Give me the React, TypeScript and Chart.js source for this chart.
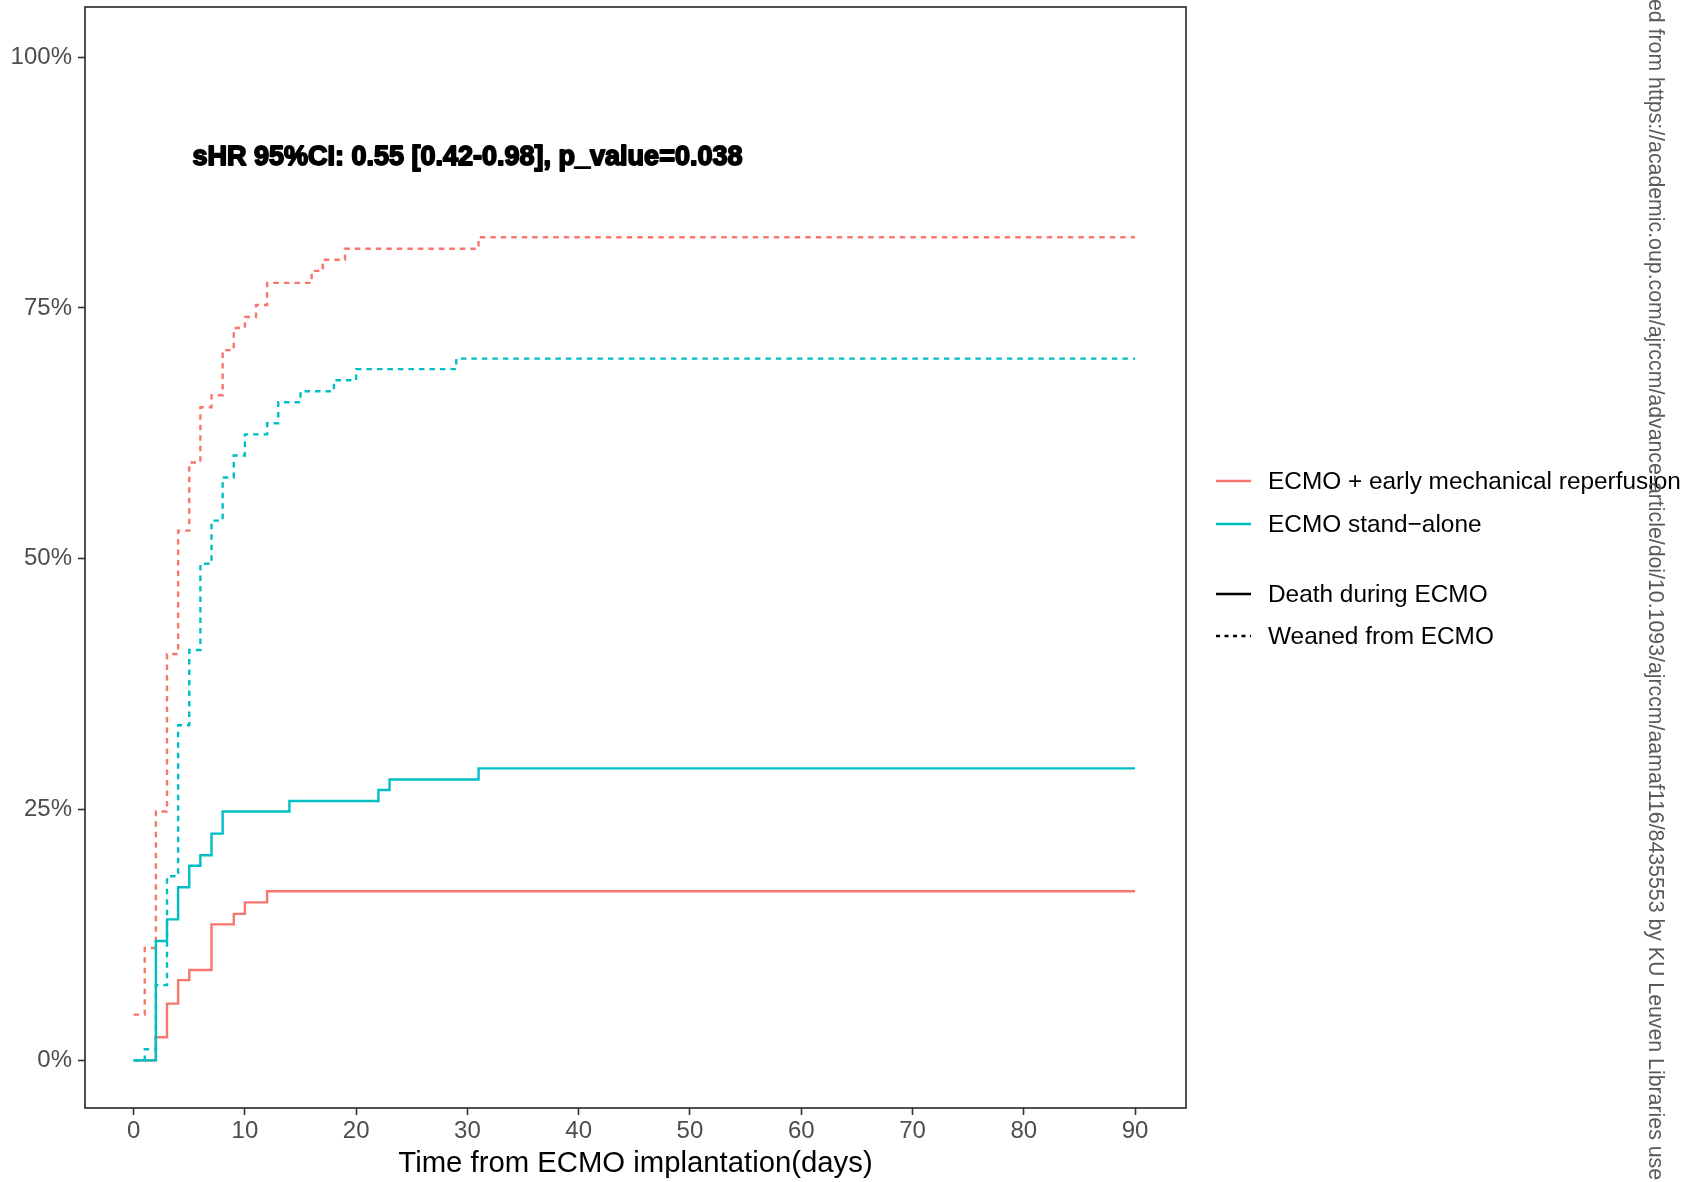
import React, { useEffect, useRef } from 'react';
import { Chart, registerables } from 'chart.js';

Chart.register(...registerables);

const FONT = '"Liberation Sans", Arial, Helvetica, sans-serif';

// Axis ticks
const xTickValues = [0, 10, 20, 30, 40, 50, 60, 70, 80, 90];
const yTickValues = [0, 25, 50, 75, 100];

// Cumulative incidence (%), value holds from the time point onward
const deathEarlyT = [0, 2, 3, 4, 5, 7, 9, 10, 12, 90];
const deathEarlyV = [0, 2.3, 5.65, 8.0, 9.0, 13.55, 14.6, 15.75, 16.85, 16.85];

const deathAloneT = [0, 2, 3, 4, 5, 6, 7, 8, 14, 22, 23, 31, 90];
const deathAloneV = [0, 11.9, 14.05, 17.25, 19.4, 20.45, 22.6, 24.8, 25.85, 26.95, 28.0, 29.1, 29.1];

const weanEarlyT = [0, 1, 2, 3, 4, 5, 6, 7, 8, 9, 10, 11, 12, 16, 17, 19, 31, 90];
const weanEarlyV = [4.56, 11.2, 24.8, 40.5, 52.8, 59.6, 65.1, 66.3, 70.8, 73.0, 74.1, 75.3, 77.5, 78.7, 79.8, 80.9, 82.05, 82.05];

const weanAloneT = [0, 1, 2, 3, 4, 5, 6, 7, 8, 9, 10, 12, 13, 15, 18, 20, 29, 90];
const weanAloneV = [0, 1.1, 7.5, 18.35, 33.4, 40.9, 49.5, 53.8, 58.1, 60.3, 62.4, 63.5, 65.6, 66.7, 67.8, 68.9, 69.95, 69.95];

const groupLabels = ['ECMO + early mechanical reperfusion', 'ECMO stand\u2212alone'];
const groupColors = ['#F8766D', '#00BFC4'];
const eventLabels = ['Death during ECMO', 'Weaned from ECMO'];

const annotationText = 'sHR 95%CI: 0.55 [0.42-0.98], p_value=0.038';
const annotationAt = { x: 30, y: 90 };
const xTitle = 'Time from ECMO implantation(days)';
const watermark = 'ed from https://academic.oup.com/ajrccm/advance-article/doi/10.1093/ajrccm/aamaf116/8435553 by KU Leuven Libraries use';

const DASH = [5.5, 5];
const LW = 2.4;

function pts(t: number[], v: number[]) {
  return t.map((x, i) => ({ x, y: v[i] }));
}

const decorPlugin = {
  id: 'decor',
  afterDraw(chart: any) {
    const { ctx, chartArea: a } = chart;
    const xs = chart.scales.x;
    const ys = chart.scales.y;
    ctx.save();
    // panel border
    ctx.strokeStyle = '#333333';
    ctx.lineWidth = 1.7;
    ctx.setLineDash([]);
    ctx.strokeRect(a.left, a.top, a.right - a.left, a.bottom - a.top);

    // annotation (heavy, overprinted look)
    ctx.font = `bold 27px ${FONT}`;
    ctx.fillStyle = '#000000';
    ctx.strokeStyle = '#000000';
    ctx.lineWidth = 1.8;
    ctx.lineJoin = 'round';
    ctx.textAlign = 'center';
    ctx.textBaseline = 'middle';
    const ax = xs.getPixelForValue(annotationAt.x);
    const ay = ys.getPixelForValue(annotationAt.y);
    ctx.strokeText(annotationText, ax, ay);
    ctx.fillText(annotationText, ax, ay);

    // x-axis title
    ctx.font = `29.3px ${FONT}`;
    ctx.fillStyle = '#000000';
    ctx.fillText(xTitle, (a.left + a.right) / 2, 1164);

    // legend
    const keyX0 = 1216;
    const keyX1 = 1251;
    const textX = 1268;
    const rows = [481, 524, 594, 636];
    ctx.font = `24.4px ${FONT}`;
    ctx.textAlign = 'left';
    ctx.lineWidth = LW;
    const items = [
      { label: groupLabels[0], color: groupColors[0], dash: [] as number[] },
      { label: groupLabels[1], color: groupColors[1], dash: [] as number[] },
      { label: eventLabels[0], color: '#000000', dash: [] as number[] },
      { label: eventLabels[1], color: '#000000', dash: [4, 4.5] },
    ];
    items.forEach((it, i) => {
      ctx.strokeStyle = it.color;
      ctx.setLineDash(it.dash);
      ctx.beginPath();
      ctx.moveTo(keyX0, rows[i]);
      ctx.lineTo(keyX1, rows[i]);
      ctx.stroke();
      ctx.setLineDash([]);
      ctx.fillStyle = '#000000';
      ctx.fillText(it.label, textX, rows[i] + 1);
    });

    // vertical watermark
    ctx.save();
    ctx.translate(1655, -1);
    ctx.rotate(Math.PI / 2);
    let fs = 21;
    ctx.font = `${fs}px ${FONT}`;
    const w = ctx.measureText(watermark).width;
    fs = fs * 1182 / w;
    ctx.font = `${fs}px ${FONT}`;
    ctx.fillStyle = '#5a5a5a';
    ctx.textAlign = 'left';
    ctx.textBaseline = 'middle';
    ctx.fillText(watermark, 0, 0);
    ctx.restore();

    ctx.restore();
  },
};

export default function App() {
  const ref = useRef<HTMLCanvasElement | null>(null);
  useEffect(() => {
    document.body.style.margin = '0';
    document.body.style.overflow = 'hidden';
    const canvas = ref.current;
    if (!canvas) return;
    const common = {
      stepped: 'before' as const,
      pointRadius: 0,
      pointHoverRadius: 0,
      borderWidth: LW,
      borderCapStyle: 'butt' as const,
      fill: false,
      tension: 0,
    };
    const chart = new Chart(canvas, {
      type: 'line',
      data: {
        datasets: [
          { ...common, label: groupLabels[1] + ' - ' + eventLabels[0], data: pts(deathAloneT, deathAloneV), borderColor: groupColors[1] },
          { ...common, label: groupLabels[1] + ' - ' + eventLabels[1], data: pts(weanAloneT, weanAloneV), borderColor: groupColors[1], borderDash: DASH },
          { ...common, label: groupLabels[0] + ' - ' + eventLabels[0], data: pts(deathEarlyT, deathEarlyV), borderColor: groupColors[0] },
          { ...common, label: groupLabels[0] + ' - ' + eventLabels[1], data: pts(weanEarlyT, weanEarlyV), borderColor: groupColors[0], borderDash: DASH },
        ],
      },
      options: {
        animation: false,
        responsive: false,
        maintainAspectRatio: false,
        events: [],
        layout: { padding: { left: 0, right: 504, top: 7, bottom: 0 } },
        plugins: {
          legend: { display: false },
          tooltip: { enabled: false },
          title: { display: false },
        },
        scales: {
          x: {
            type: 'linear',
            min: -4.37,
            max: 94.58,
            afterBuildTicks: (s: any) => { s.ticks = xTickValues.map((v) => ({ value: v })); },
            afterFit: (s: any) => {
              s.height = 74;
              s.paddingLeft = 0;
              s.paddingRight = 0;
              s.paddingTop = 0;
              s.paddingBottom = 0;
            },
            ticks: {
              color: '#4D4D4D',
              font: { family: FONT, size: 24 },
              padding: 2,
              maxRotation: 0,
              autoSkip: false,
            },
            grid: { display: true, drawOnChartArea: false, drawTicks: true, tickLength: 7, tickColor: '#333333', tickWidth: 1.6 },
            border: { display: false },
          },
          y: {
            type: 'linear',
            min: -4.75,
            max: 105,
            afterBuildTicks: (s: any) => { s.ticks = yTickValues.map((v) => ({ value: v })); },
            afterFit: (s: any) => {
              s.width = 85;
              s.paddingLeft = 0;
              s.paddingRight = 0;
              s.paddingTop = 0;
              s.paddingBottom = 0;
            },
            ticks: {
              color: '#4D4D4D',
              font: { family: FONT, size: 24 },
              padding: 6,
              callback: (v: any) => `${v}%`,
              autoSkip: false,
            },
            grid: { display: true, drawOnChartArea: false, drawTicks: true, tickLength: 7, tickColor: '#333333', tickWidth: 1.6 },
            border: { display: false },
          },
        },
      },
      plugins: [decorPlugin],
    });
    return () => chart.destroy();
  }, []);
  return (
    <canvas ref={ref} width={1690} height={1182} style={{ display: 'block', width: 1690, height: 1182 }} />
  );
}
